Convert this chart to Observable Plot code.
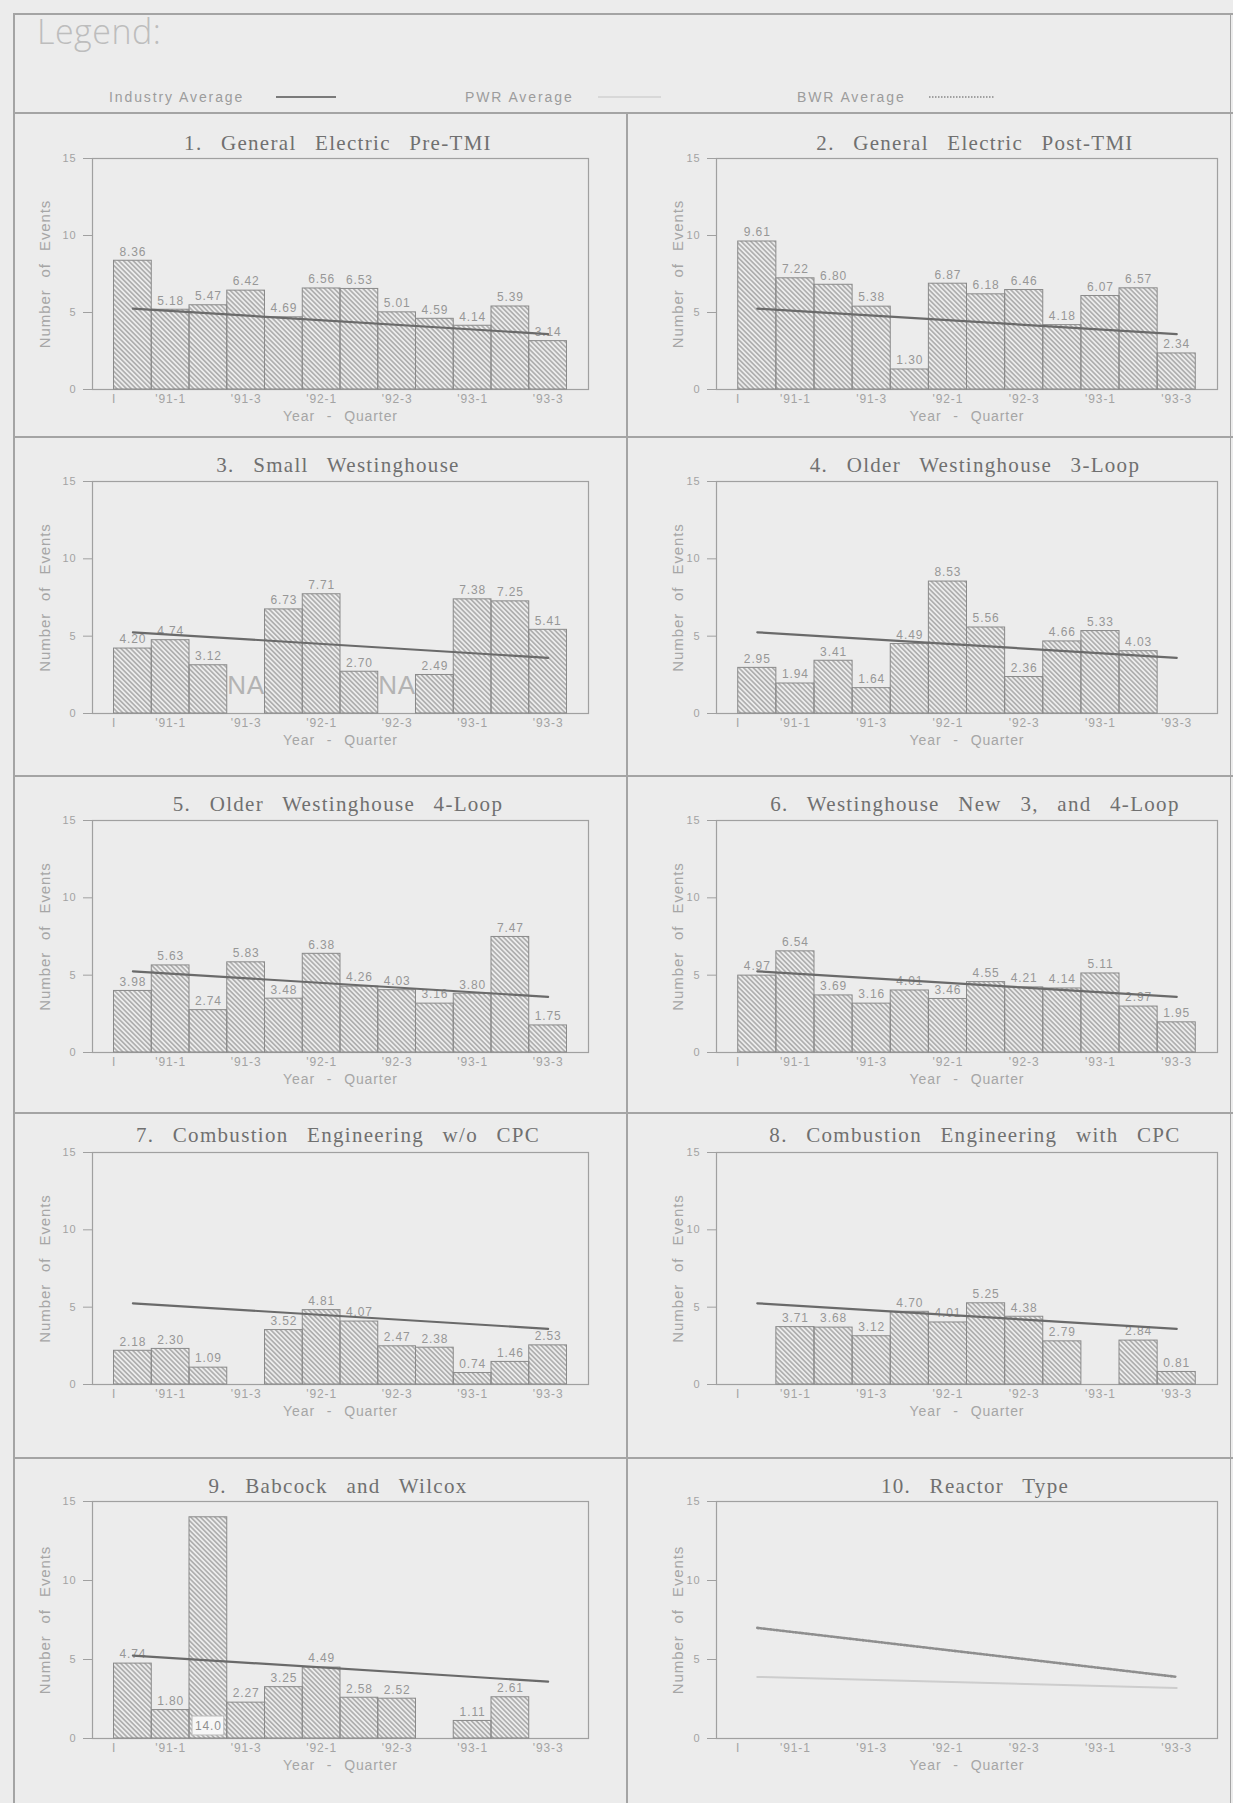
<!DOCTYPE html>
<html><head><meta charset="utf-8">
<script src="https://cdn.jsdelivr.net/npm/d3@7"></script>
<script src="https://cdn.jsdelivr.net/npm/@observablehq/plot@0.6"></script>
<style>
html,body{margin:0;padding:0;background:#ececec;}
#page{position:relative;width:1233px;height:1803px;overflow:hidden;background:#ececec;}
.rule{position:absolute;background:#a4a4a4;}
.title{position:absolute;transform:translate(-50%,-50%);white-space:nowrap;font-family:"Liberation Serif","DejaVu Serif",serif;font-size:21px;letter-spacing:1.3px;word-spacing:12px;color:#707070;}
.panel{position:absolute;}
.panel svg{overflow:visible;}
#legendHead{position:absolute;left:37px;top:10px;font-family:"Open Sans","Liberation Sans",sans-serif;font-size:34px;color:#bdbdbd;font-weight:300;line-height:42px;letter-spacing:0.5px;}
.legItem{position:absolute;font-family:"Liberation Sans",sans-serif;font-size:14px;color:#9c9c9c;letter-spacing:1.9px;white-space:nowrap;transform:translateY(-50%);}
</style></head>
<body>
<svg width="0" height="0" style="position:absolute"><defs>
<pattern id="hatch" patternUnits="userSpaceOnUse" width="3.4" height="3.4" patternTransform="rotate(-45)"><line x1="1.7" y1="0" x2="1.7" y2="3.4" stroke="#858585" stroke-width="1"/></pattern>
</defs></svg>
<div id="page"></div>
<script>
// ---------- data ----------
const quarters = ["'90-4","'91-1","'91-2","'91-3","'91-4","'92-1","'92-2","'92-3","'92-4","'93-1","'93-2","'93-3"];
const tickQuarters = ["'91-1","'91-3","'92-1","'92-3","'93-1","'93-3"];
const axisStartLabel = "I";
const yTicks = [0, 5, 10, 15];

const titles = [
  "1. General Electric Pre-TMI",
  "2. General Electric Post-TMI",
  "3. Small Westinghouse",
  "4. Older Westinghouse 3-Loop",
  "5. Older Westinghouse 4-Loop",
  "6. Westinghouse New 3, and 4-Loop",
  "7. Combustion Engineering w/o CPC",
  "8. Combustion Engineering with CPC",
  "9. Babcock and Wilcox",
  "10. Reactor Type"
];

const gePreTMI        = [8.36, 5.18, 5.47, 6.42, 4.69, 6.56, 6.53, 5.01, 4.59, 4.14, 5.39, 3.14];
const gePostTMI       = [9.61, 7.22, 6.80, 5.38, 1.30, 6.87, 6.18, 6.46, 4.18, 6.07, 6.57, 2.34];
const smallWest       = [4.20, 4.74, 3.12, null, 6.73, 7.71, 2.70, null, 2.49, 7.38, 7.25, 5.41];
const olderWest3Loop  = [2.95, 1.94, 3.41, 1.64, 4.49, 8.53, 5.56, 2.36, 4.66, 5.33, 4.03, null];
const olderWest4Loop  = [3.98, 5.63, 2.74, 5.83, 3.48, 6.38, 4.26, 4.03, 3.16, 3.80, 7.47, 1.75];
const westNew34Loop   = [4.97, 6.54, 3.69, 3.16, 4.01, 3.46, 4.55, 4.21, 4.14, 5.11, 2.97, 1.95];
const ceWithoutCPC    = [2.18, 2.30, 1.09, null, 3.52, 4.81, 4.07, 2.47, 2.38, 0.74, 1.46, 2.53];
const ceWithCPC       = [null, 3.71, 3.68, 3.12, 4.70, 4.01, 5.25, 4.38, 2.79, null, 2.84, 0.81];
const babcockWilcox   = [4.74, 1.80, 14.0, 2.27, 3.25, 4.49, 2.58, 2.52, null, 1.11, 2.61, null];

// trend lines: value at first and at last quarter
const trendQuarters   = ["'90-4", "'93-3"];
const industryAverage = [5.25, 3.6];
const pwrAverage      = [3.9, 3.2];
const bwrAverage      = [7.0, 3.9];

const smallWestNA      = ["'91-3", "'92-3"];   // quarters marked "NA"
const babcockBoxed     = ["'91-2"];            // value printed in a box at the base

const legendLabels = ["Industry Average", "PWR Average", "BWR Average"];

// ---------- layout ----------
const page = document.getElementById("page");
function rule(x, y, w, h) {
  const d = document.createElement("div");
  d.className = "rule";
  Object.assign(d.style, {left: x + "px", top: y + "px", width: w + "px", height: h + "px"});
  page.appendChild(d);
}
rule(13, 13, 1220, 1.5);
rule(13, 13, 1.5, 1790);
rule(1230, 13, 1, 1790);
rule(13, 112, 1220, 1.5);
[436, 775, 1112, 1457].forEach(y => rule(13, y, 1220, 1.5));
rule(626, 112, 1.5, 1691);

// legend
const lh = document.createElement("div");
lh.id = "legendHead"; lh.textContent = "Legend:"; page.appendChild(lh);
const legendPos = [{x: 109, lx1: 276, lx2: 336}, {x: 465, lx1: 598, lx2: 661}, {x: 797, lx1: 929, lx2: 995}];
const legendStyles = [
  {stroke: "#7a7a7a", width: 2, dash: null},
  {stroke: "#d2d2d2", width: 1.6, dash: null},
  {stroke: "#a0a0a0", width: 2, dash: "1.5 1.5"}
];
legendLabels.forEach((lab, i) => {
  const t = document.createElement("div");
  t.className = "legItem"; t.textContent = lab;
  t.style.left = legendPos[i].x + "px"; t.style.top = "97px";
  page.appendChild(t);
  const s = d3.select(page).append("svg")
    .style("position", "absolute").style("left", legendPos[i].lx1 + "px").style("top", "92px")
    .attr("width", legendPos[i].lx2 - legendPos[i].lx1).attr("height", 10);
  s.append("line").attr("x1", 0).attr("x2", legendPos[i].lx2 - legendPos[i].lx1).attr("y1", 5).attr("y2", 5)
    .attr("stroke", legendStyles[i].stroke).attr("stroke-width", legendStyles[i].width)
    .attr("stroke-dasharray", legendStyles[i].dash);
});

const rows = [
  {title: 143, frameTop: 158, base: 389},
  {title: 465, frameTop: 481, base: 713},
  {title: 804, frameTop: 820, base: 1052},
  {title: 1135, frameTop: 1152, base: 1384},
  {title: 1486, frameTop: 1501, base: 1738}
];
const cols = [
  {x0: 14, width: 613, frameLeft: 92, frameRight: 588, titleX: 338, yLabelDx: -47},
  {x0: 627, width: 606, frameLeft: 716, frameRight: 1217, titleX: 975, yLabelDx: -38}
];

const panelValues = [gePreTMI, gePostTMI, smallWest, olderWest3Loop, olderWest4Loop,
                     westNew34Loop, ceWithoutCPC, ceWithCPC, babcockWilcox, null];
const panelNA = {2: smallWestNA};
const panelBoxed = {8: babcockBoxed};

const idx = q => quarters.indexOf(q);
const fmt = v => v >= 10 ? v.toFixed(1) : v.toFixed(2);
const trend = arr => trendQuarters.map((q, i) => ({q, v: arr[i]}));

function makePanel(k) {
  const C = cols[k % 2], R = rows[Math.floor(k / 2)];
  const mt = 14, mb = 46;
  const frameH = R.base - R.frameTop;
  const values = panelValues[k];
  const bars = values ? quarters.map((q, i) => ({q, v: values[i]})).filter(d => d.v != null) : [];
  const boxed = panelBoxed[k] || [];
  const na = panelNA[k] || [];
  const topLabels = bars.filter(d => !boxed.includes(d.q));
  const boxLabels = bars.filter(d => boxed.includes(d.q));
  const tickVals = [-0.5, ...tickQuarters.map(idx)];

  const marks = [
    Plot.frame({stroke: "#a0a0a0", strokeWidth: 1.2}),
    Plot.axisY({ticks: yTicks, tickSize: 9, tickPadding: 7, fontSize: 11, label: null, stroke: "#a0a0a0"}),
    Plot.axisX({ticks: tickVals, tickSize: 0, tickPadding: 5, fontSize: 12, label: null,
                tickFormat: d => d === -0.5 ? axisStartLabel : quarters[d]}),
    Plot.rect(bars, {x1: d => idx(d.q) - 0.5, x2: d => idx(d.q) + 0.5, y1: 0, y2: "v",
                     fill: "url(#hatch)", stroke: "#8a8a8a", strokeWidth: 1}),
    Plot.text(topLabels, {x: d => idx(d.q), y: "v", text: d => fmt(d.v), dy: -9, fontSize: 12, fill: "#979797"}),
    Plot.rect(boxLabels, {x1: d => idx(d.q) - 0.42, x2: d => idx(d.q) + 0.42, y1: 0, y2: 0,
                          insetTop: -22, insetBottom: 3, fill: "#f7f7f7", stroke: "#bbbbbb"}),
    Plot.text(boxLabels, {x: d => idx(d.q), y: 0, text: d => fmt(d.v), dy: -12, fontSize: 12, fill: "#8f8f8f"}),
    Plot.text(na, {x: q => idx(q), y: 0, text: () => "NA", dy: -28, fontSize: 26, fill: "#b3b3b3"}),
    Plot.text(["Year - Quarter"], {frameAnchor: "bottom", dy: 31, fontSize: 14, fill: "#a6a6a6"}),
    Plot.text(["Number of Events"], {frameAnchor: "left", textAnchor: "middle", rotate: -90, dx: C.yLabelDx, fontSize: 15, fill: "#a6a6a6"})
  ];
  if (k < 9) {
    marks.push(Plot.line(trend(industryAverage), {x: d => idx(d.q), y: "v", stroke: "#6a6a6a", strokeWidth: 2.2}));
  } else {
    marks.push(Plot.line(trend(pwrAverage), {x: d => idx(d.q), y: "v", stroke: "#cdcdcd", strokeWidth: 2}));
    marks.push(Plot.line(trend(bwrAverage), {x: d => idx(d.q), y: "v", stroke: "#8e8e8e", strokeWidth: 2.6, strokeDasharray: "1.6 1.6"}));
  }

  const chart = Plot.plot({
    width: C.width,
    height: mt + frameH + mb,
    marginLeft: C.frameLeft - C.x0,
    marginRight: C.x0 + C.width - C.frameRight,
    marginTop: mt,
    marginBottom: mb,
    x: {type: "linear", domain: [-1.07, 12.07]},
    y: {type: "linear", domain: [0, 15]},
    style: {background: "transparent", color: "#a3a3a3", fontFamily: "'Liberation Sans', Arial, sans-serif",
            letterSpacing: "0.9px", wordSpacing: "7px", overflow: "visible"},
    marks
  });
  const wrap = document.createElement("div");
  wrap.className = "panel";
  wrap.style.left = C.x0 + "px";
  wrap.style.top = (R.frameTop - mt) + "px";
  wrap.appendChild(chart);
  page.appendChild(wrap);

  const t = document.createElement("div");
  t.className = "title";
  t.textContent = titles[k];
  t.style.left = C.titleX + "px";
  t.style.top = R.title + "px";
  page.appendChild(t);
}
for (let k = 0; k < 10; k++) makePanel(k);
</script>
</body></html>
